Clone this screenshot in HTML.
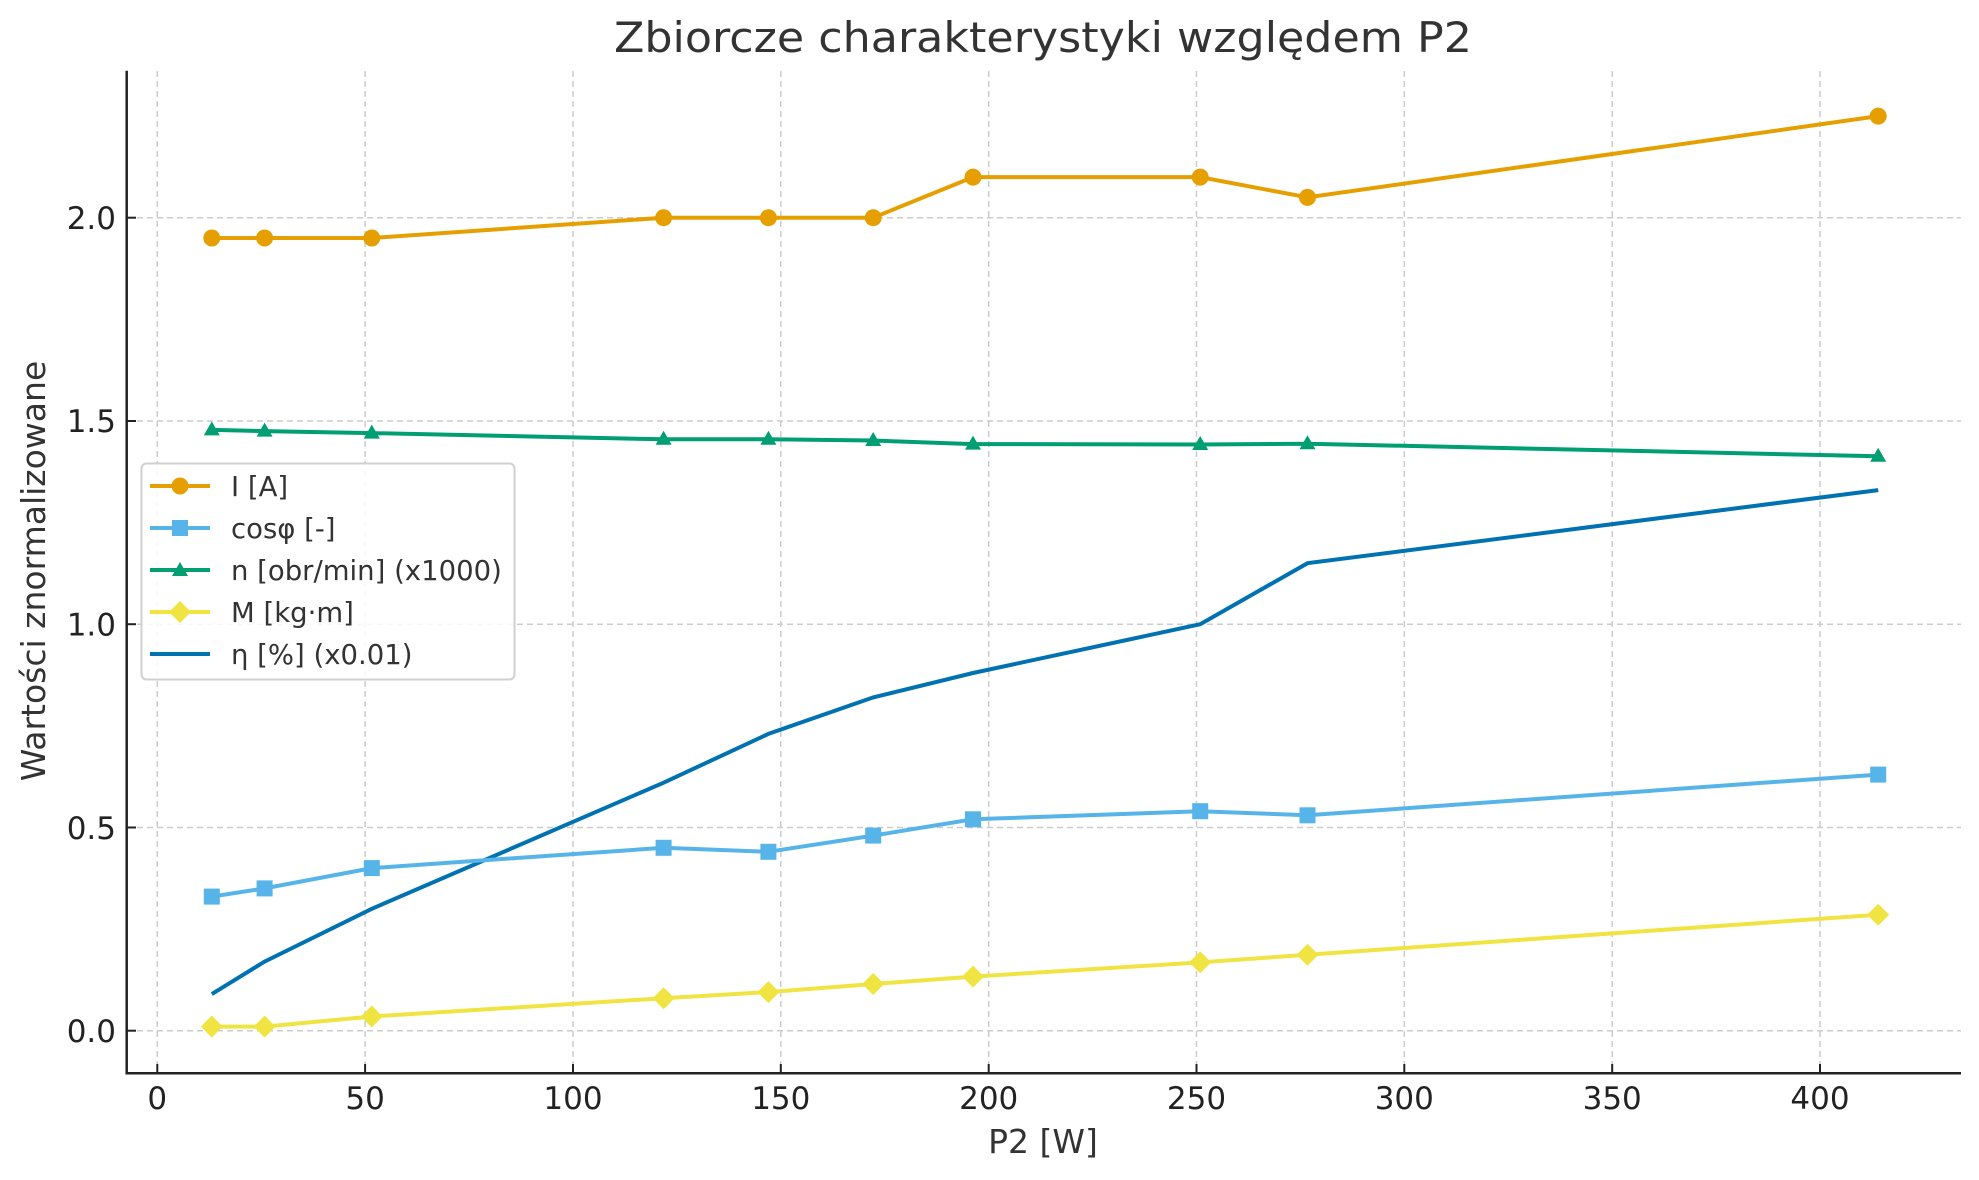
<!DOCTYPE html>
<html><head><meta charset="utf-8"><style>html,body{margin:0;padding:0;background:#fff}svg{display:block}</style></head>
<body>
<svg xmlns="http://www.w3.org/2000/svg" width="1979" height="1180" viewBox="0 0 1979 1180" font-family="DejaVu Sans, Liberation Sans, sans-serif">
<rect width="1979" height="1180" fill="#fff"/>
<g stroke="#cccccc" stroke-width="1.5" stroke-dasharray="6,4">
<line x1="157.3" y1="71" x2="157.3" y2="1073"/><line x1="365.1" y1="71" x2="365.1" y2="1073"/><line x1="573" y1="71" x2="573" y2="1073"/><line x1="780.8" y1="71" x2="780.8" y2="1073"/><line x1="988.7" y1="71" x2="988.7" y2="1073"/><line x1="1196.5" y1="71" x2="1196.5" y2="1073"/><line x1="1404.3" y1="71" x2="1404.3" y2="1073"/><line x1="1612.2" y1="71" x2="1612.2" y2="1073"/><line x1="1820" y1="71" x2="1820" y2="1073"/>
<line x1="127" y1="1030.7" x2="1961" y2="1030.7"/><line x1="127" y1="827.5" x2="1961" y2="827.5"/><line x1="127" y1="624.2" x2="1961" y2="624.2"/><line x1="127" y1="421" x2="1961" y2="421"/><line x1="127" y1="217.7" x2="1961" y2="217.7"/>
</g>
<g stroke="#222" stroke-width="2.5">
<line x1="126.7" y1="70.7" x2="126.7" y2="1074.5"/><line x1="125.5" y1="1073.3" x2="1961" y2="1073.3"/>
<g stroke-width="2"><line x1="157.3" y1="1073" x2="157.3" y2="1064"/><line x1="365.1" y1="1073" x2="365.1" y2="1064"/><line x1="573" y1="1073" x2="573" y2="1064"/><line x1="780.8" y1="1073" x2="780.8" y2="1064"/><line x1="988.7" y1="1073" x2="988.7" y2="1064"/><line x1="1196.5" y1="1073" x2="1196.5" y2="1064"/><line x1="1404.3" y1="1073" x2="1404.3" y2="1064"/><line x1="1612.2" y1="1073" x2="1612.2" y2="1064"/><line x1="1820" y1="1073" x2="1820" y2="1064"/>
<line x1="127" y1="1030.7" x2="136" y2="1030.7"/><line x1="127" y1="827.5" x2="136" y2="827.5"/><line x1="127" y1="624.2" x2="136" y2="624.2"/><line x1="127" y1="421" x2="136" y2="421"/><line x1="127" y1="217.7" x2="136" y2="217.7"/></g>
</g>
<g fill="#222" font-size="31" text-anchor="middle">
<text x="157.3" y="1109">0</text><text x="365.1" y="1109">50</text><text x="573" y="1109">100</text><text x="780.8" y="1109">150</text><text x="988.7" y="1109">200</text><text x="1196.5" y="1109">250</text><text x="1404.3" y="1109">300</text><text x="1612.2" y="1109">350</text><text x="1820" y="1109">400</text>
</g>
<g fill="#222" font-size="31" text-anchor="end">
<text x="116" y="1042">0.0</text><text x="116" y="839">0.5</text><text x="116" y="635.5">1.0</text><text x="116" y="432">1.5</text><text x="116" y="229">2.0</text>
</g>
<text x="1043" y="1153" font-size="33" fill="#333" text-anchor="middle">P2 [W]</text>
<text transform="translate(45,571) rotate(-90)" font-size="33" fill="#333" text-anchor="middle">Wartości znormalizowane</text>
<text x="1043" y="52" font-size="42" fill="#333" text-anchor="middle" textLength="858" lengthAdjust="spacingAndGlyphs">Zbiorcze charakterystyki względem P2</text>

<polyline fill="none" stroke="#0072b2" stroke-width="4" points="211.8,994.1 264.6,961.6 371.8,908.8 663.6,782.7 768.4,733.9 873.2,697.4 973,673 1200.2,624.2 1307.5,563.2 1878.2,490.1"/>
<polyline fill="none" stroke="#f0e442" stroke-width="4" points="211.8,1026.6 264.6,1026.6 371.8,1016.5 663.6,998.2 768.4,992.1 873.2,984 973,976.6 1200.2,962.4 1307.5,954.7 1878.2,914.8"/>
<g fill="#f0e442">
<path d="M211.8,1015.6l11,11l-11,11l-11,-11z"/><path d="M264.6,1015.6l11,11l-11,11l-11,-11z"/><path d="M371.8,1005.5l11,11l-11,11l-11,-11z"/><path d="M663.6,987.2l11,11l-11,11l-11,-11z"/><path d="M768.4,981.1l11,11l-11,11l-11,-11z"/><path d="M873.2,973l11,11l-11,11l-11,-11z"/><path d="M973,965.6l11,11l-11,11l-11,-11z"/><path d="M1200.2,951.4l11,11l-11,11l-11,-11z"/><path d="M1307.5,943.7l11,11l-11,11l-11,-11z"/><path d="M1878.2,903.8l11,11l-11,11l-11,-11z"/>
</g>
<polyline fill="none" stroke="#56b4e9" stroke-width="4" points="211.8,896.6 264.6,888.4 371.8,868.1 663.6,847.8 768.4,851.8 873.2,835.6 973,819.3 1200.2,811.2 1307.5,815.3 1878.2,774.6"/>
<g fill="#56b4e9">
<rect x="203.8" y="888.6" width="16" height="16"/><rect x="256.6" y="880.4" width="16" height="16"/><rect x="363.8" y="860.1" width="16" height="16"/><rect x="655.6" y="839.8" width="16" height="16"/><rect x="760.4" y="843.8" width="16" height="16"/><rect x="865.2" y="827.6" width="16" height="16"/><rect x="965" y="811.3" width="16" height="16"/><rect x="1192.2" y="803.2" width="16" height="16"/><rect x="1299.5" y="807.3" width="16" height="16"/><rect x="1870.2" y="766.6" width="16" height="16"/>
</g>
<polyline fill="none" stroke="#009e73" stroke-width="4" points="211.8,429.9 264.6,431.1 371.8,433.1 663.6,439.3 768.4,439.3 873.2,440.5 973,444.1 1200.2,444.5 1307.5,443.7 1878.2,456.3"/>
<g fill="#009e73">
<path d="M211.8,421.4l8,14h-16z"/><path d="M264.6,422.6l8,14h-16z"/><path d="M371.8,424.6l8,14h-16z"/><path d="M663.6,430.8l8,14h-16z"/><path d="M768.4,430.8l8,14h-16z"/><path d="M873.2,432l8,14h-16z"/><path d="M973,435.6l8,14h-16z"/><path d="M1200.2,436l8,14h-16z"/><path d="M1307.5,435.2l8,14h-16z"/><path d="M1878.2,447.8l8,14h-16z"/>
</g>
<polyline fill="none" stroke="#e69f00" stroke-width="4" points="211.8,238 264.6,238 371.8,238 663.6,217.7 768.4,217.7 873.2,217.7 973,177.1 1200.2,177.1 1307.5,197.4 1878.2,116.1"/>
<g fill="#e69f00">
<circle cx="211.8" cy="238" r="8.5"/><circle cx="264.6" cy="238" r="8.5"/><circle cx="371.8" cy="238" r="8.5"/><circle cx="663.6" cy="217.7" r="8.5"/><circle cx="768.4" cy="217.7" r="8.5"/><circle cx="873.2" cy="217.7" r="8.5"/><circle cx="973" cy="177.1" r="8.5"/><circle cx="1200.2" cy="177.1" r="8.5"/><circle cx="1307.5" cy="197.4" r="8.5"/><circle cx="1878.2" cy="116.1" r="8.5"/>
</g>
<rect x="141.5" y="463.5" width="373" height="216" rx="5" fill="#fff" fill-opacity="0.85" stroke="#d0d0d0" stroke-width="2"/>
<g stroke-width="4">
<line x1="150" y1="486" x2="210" y2="486" stroke="#e69f00"/><circle cx="180" cy="486" r="8.5" fill="#e69f00"/>
<line x1="150" y1="528" x2="210" y2="528" stroke="#56b4e9"/><rect x="172" y="520" width="16" height="16" fill="#56b4e9"/>
<line x1="150" y1="570" x2="210" y2="570" stroke="#009e73"/><path d="M180,562l8,14h-16z" fill="#009e73"/>
<line x1="150" y1="612" x2="210" y2="612" stroke="#f0e442"/><path d="M180,601l11,11l-11,11l-11,-11z" fill="#f0e442"/>
<line x1="150" y1="654" x2="210" y2="654" stroke="#0072b2"/>
</g>
<g fill="#333" font-size="27.5">
<text x="231" y="496">I [A]</text><text x="231" y="538">cosφ [-]</text><text x="231" y="580">n [obr/min] (x1000)</text><text x="231" y="622">M [kg·m]</text><text x="231" y="664">η [%] (x0.01)</text>
</g>
</svg>
</body></html>
